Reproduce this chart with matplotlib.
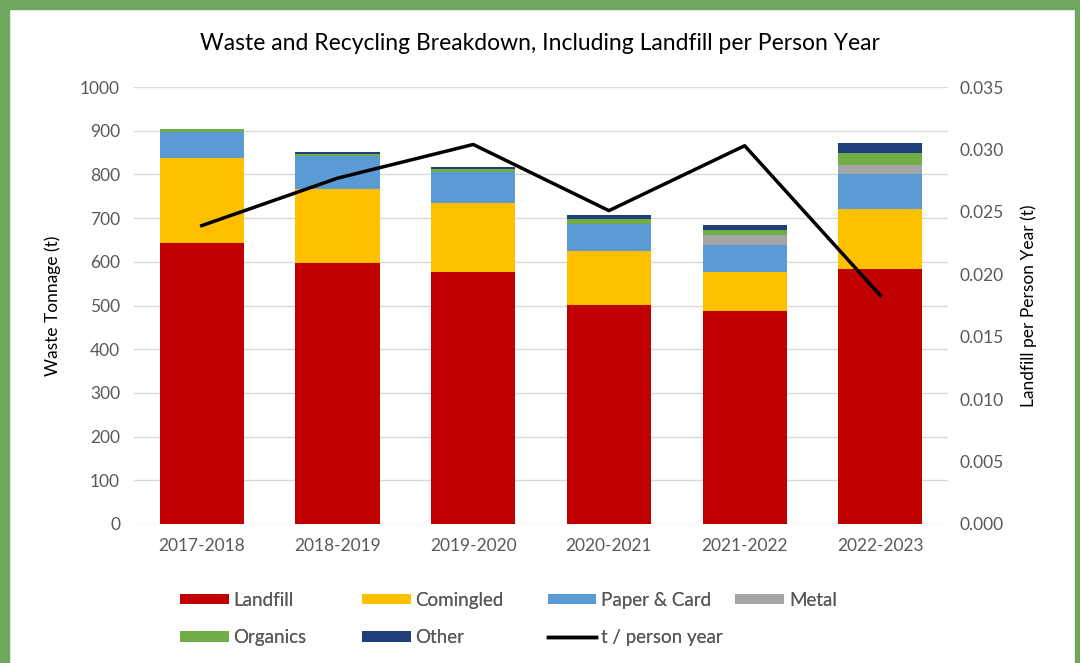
import matplotlib.pyplot as plt
import numpy as np
from matplotlib.patches import Rectangle
from matplotlib.lines import Line2D

plt.rcParams['font.family'] = ['Lato', 'DejaVu Sans']

years = ['2017-2018', '2018-2019', '2019-2020', '2020-2021', '2021-2022', '2022-2023']
landfill = [643, 597, 577, 501, 487, 583]
comingled = [194, 169, 158, 124, 90, 137]
paper = [61, 76, 71, 61, 61, 81]
metal = [0, 0, 0, 0, 23, 21]
organics = [7, 4, 6, 11, 12, 26]
other = [0, 5, 6, 11, 11, 25]
per_person = [0.0239, 0.0277, 0.0304, 0.0251, 0.0303, 0.0183]

series = [
    ('Landfill', landfill, '#c00000'),
    ('Comingled', comingled, '#ffc000'),
    ('Paper & Card', paper, '#5b9bd5'),
    ('Metal', metal, '#a5a5a5'),
    ('Organics', organics, '#70ad47'),
    ('Other', other, '#203f7a'),
]

fig = plt.figure(figsize=(10.8, 6.63), dpi=100)
ax = fig.add_axes([0.124, 0.2097, 0.754, 0.659])
x = np.arange(len(years))
bottom = np.zeros(len(years))
handles = {}
for name, vals, col in series:
    b = ax.bar(x, vals, 0.62, bottom=bottom, color=col, zorder=2, label=name)
    handles[name] = b
    bottom += np.array(vals)

ax.set_xlim(-0.5, len(years) - 0.5)
ax.set_ylim(0, 1000)
ax.set_yticks(range(0, 1001, 100))
ax.set_xticks(x)
ax.set_xticklabels(years)
ax.grid(axis='y', color='#d9d9d9', lw=1, zorder=0)
for s in ax.spines.values():
    s.set_visible(False)
ax.tick_params(length=0, labelsize=12.5, colors='#595959', pad=10)
ax.tick_params(axis='x', pad=10)
ax.set_ylabel('Waste Tonnage (t)', fontsize=12.5, color='#000000', labelpad=14)

ax2 = ax.twinx()
ax2.plot(x, per_person, color='black', lw=2.5, zorder=3)
ax2.set_ylim(0, 0.035)
ax2.set_yticks(np.arange(0, 0.0351, 0.005))
ax2.set_yticklabels([f'{v:.3f}' for v in np.arange(0, 0.0351, 0.005)])
for s in ax2.spines.values():
    s.set_visible(False)
ax2.tick_params(length=0, labelsize=12.5, colors='#595959', pad=8)
ax2.set_ylabel('Landfill per Person Year (t)', fontsize=12.5, color='#000000', labelpad=12)

fig.text(0.5, 0.935, 'Waste and Recycling Breakdown, Including Landfill per Person Year',
         ha='center', va='center', fontsize=16.5)

# legend laid out like Excel: fixed column slots, two rows
line_h = Line2D([], [], color='black', lw=2.5)
leg_items = [('Landfill', handles['Landfill']), ('Comingled', handles['Comingled']),
             ('Paper & Card', handles['Paper & Card']), ('Metal', handles['Metal']),
             ('Organics', handles['Organics']), ('Other', handles['Other']),
             ('t / person year', line_h)]
col_x = [0.1667, 0.335, 0.507, 0.681]
row_y = [0.095, 0.038]
for i, (name, h) in enumerate(leg_items):
    lg = fig.legend([h], [name], loc='center left', frameon=False,
                    bbox_to_anchor=(col_x[i % 4], row_y[i // 4]), fontsize=13.5,
                    handlelength=2.6, handleheight=0.5, handletextpad=0.25,
                    borderpad=0, borderaxespad=0, labelcolor='#595959')
    fig.add_artist(lg)

# green frame (left, top, right)
green = '#6ea85f'
fig.patches.append(Rectangle((0, 0), 9 / 1080, 1, transform=fig.transFigure,
                             color=green, zorder=10))
fig.patches.append(Rectangle((0, 1 - 9 / 663), 1, 9 / 663, transform=fig.transFigure,
                             color=green, zorder=10))
fig.patches.append(Rectangle((1 - 5 / 1080, 0), 5 / 1080, 1, transform=fig.transFigure,
                             color=green, zorder=10))

fig.savefig('out.png', dpi=100)
